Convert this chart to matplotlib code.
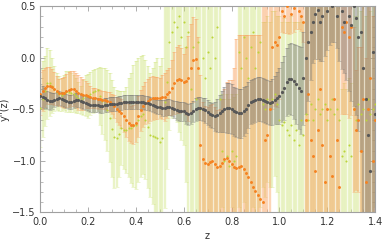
import numpy as np
import matplotlib
matplotlib.use("Agg")
import matplotlib.pyplot as plt
from matplotlib.ticker import MultipleLocator, FuncFormatter

# z grid (step 0.01 from 0 to 1.4)
z = np.round(np.arange(141) * 0.01, 2)

# series 1: yellow-green points with error bars
green_val = [
    -0.49, -0.40, -0.32, -0.25, -0.25, -0.27, -0.30, -0.33, -0.35, -0.36,
    -0.34, -0.33, -0.33, -0.34, -0.35, -0.37, -0.39, -0.41, -0.39, -0.37,
    -0.37, -0.35, -0.33, -0.32, -0.31, -0.37, -0.42, -0.45, -0.51, -0.58,
    -0.69, -0.77, -0.78, -0.74, -0.68, -0.70, -0.70, -0.68, -0.68, -0.66,
    -0.65, -0.60, -0.57, -0.55, -0.60, -0.67, -0.75, -0.76, -0.77, -0.78,
    -0.82, -0.78, -0.43, -0.24, 0.15, 0.25, 0.35, 0.30, 0.40, 0.20,
    0.35, 0.10, 0.25, -0.30, 0.10, -0.40, 0.15, -0.50, 0.00, -0.20,
    0.05, -0.10, 0.20, 0.00, 0.30, -0.40, -0.90, -1.00, -0.95, -1.05,
    -0.90, -1.00, -0.95, 0.05, -0.10, 0.20, 0.00, -0.20, 0.10, 0.25,
    -0.10, 0.05, 0.15, -0.45, -0.50, -0.40, -0.45, -0.40, -0.35, -0.45,
    -0.60, -0.65, -0.62, -0.70, -0.75, -0.65, -0.80, -0.70, -0.85, -0.60,
    -0.75, -0.55, -0.60, -0.45, -0.60, -0.50, -0.40, -0.55, -0.50, -0.45,
    -0.60, -0.50, -0.40, -0.55, -0.50, -0.60, -0.95, -0.90, -1.00, -0.85,
    -0.95, -0.50, -0.60, -0.45, -0.55, -0.50, -0.60, -0.40, -0.55, -0.50,
    -0.45,
]
green_err = [
    0.38, 0.37, 0.34, 0.34, 0.32, 0.27, 0.22, 0.18, 0.17, 0.16,
    0.17, 0.20, 0.20, 0.19, 0.18, 0.17, 0.15, 0.14, 0.17, 0.20,
    0.21, 0.21, 0.21, 0.21, 0.21, 0.28, 0.32, 0.35, 0.39, 0.43,
    0.47, 0.49, 0.47, 0.42, 0.36, 0.38, 0.42, 0.48, 0.53, 0.59,
    0.62, 0.60, 0.59, 0.58, 0.58, 0.59, 0.60, 0.66, 0.73, 0.78,
    0.74, 0.78, 1.03, 0.84, 0.85, 0.83, 0.90, 0.92, 1.12, 1.00,
    1.20, 1.30, 1.80, 1.40, 1.70, 1.30, 1.70, 1.20, 1.60, 1.40,
    1.60, 1.50, 1.80, 1.60, 1.80, 1.20, 0.55, 0.60, 0.60, 0.65,
    0.55, 0.62, 0.60, 1.50, 1.50, 1.60, 1.50, 1.40, 1.60, 1.70,
    1.50, 1.60, 1.60, 0.80, 0.85, 0.80, 0.80, 0.85, 0.80, 0.85,
    1.00, 1.00, 1.00, 1.05, 1.10, 1.05, 1.15, 1.05, 1.20, 1.00,
    1.10, 1.10, 1.20, 1.20, 1.25, 1.20, 1.20, 1.20, 1.20, 1.20,
    1.20, 1.20, 1.20, 1.20, 1.20, 1.20, 0.65, 0.65, 0.70, 0.65,
    0.70, 1.10, 1.00, 1.10, 1.00, 1.10, 1.00, 1.10, 1.00, 1.10,
    1.00,
]

# series 2: orange points with error bars
orange_val = [
    -0.35, -0.32, -0.29, -0.27, -0.27, -0.28, -0.30, -0.32, -0.34, -0.34,
    -0.34, -0.32, -0.31, -0.30, -0.30, -0.32, -0.34, -0.35, -0.36, -0.36,
    -0.37, -0.38, -0.39, -0.39, -0.40, -0.40, -0.41, -0.41, -0.42, -0.43,
    -0.45, -0.47, -0.50, -0.52, -0.54, -0.57, -0.60, -0.63, -0.65, -0.65,
    -0.63, -0.57, -0.51, -0.47, -0.44, -0.42, -0.40, -0.39, -0.39, -0.39,
    -0.39, -0.38, -0.38, -0.35, -0.33, -0.29, -0.25, -0.22, -0.21, -0.22,
    -0.24, -0.23, -0.20, -0.10, -0.02, -0.01, -0.10, -0.85, -0.98, -1.02,
    -1.03, -1.01, -1.00, -1.03, -1.06, -1.05, -1.02, -0.98, -0.97, -1.00,
    -1.03, -1.06, -1.07, -1.06, -1.05, -1.08, -1.12, -1.16, -1.20, -1.25,
    -1.29, -1.33, -1.37, -1.40, -0.80, -0.75, -0.50, 0.10, 0.15, 0.12,
    0.20, 0.45, 0.40, 0.50, 0.55, 0.42, 0.48, 0.52, 0.45, 0.40,
    0.35, -0.60, -0.35, -0.80, -0.95, -1.10, -0.70, -0.30, -0.85, -1.20,
    -0.50, -0.95, -1.15, -0.40, -0.80, -1.25, 0.30, 0.25, 0.35, 0.20,
    0.30, -0.50, -0.70, -0.60, -0.90, -0.40, -1.20, -0.50, -0.20, -1.00,
    -0.60,
]
orange_err = [
    0.21, 0.20, 0.19, 0.18, 0.18, 0.17, 0.16, 0.14, 0.13, 0.14,
    0.15, 0.16, 0.17, 0.17, 0.17, 0.17, 0.17, 0.16, 0.15, 0.13,
    0.12, 0.11, 0.10, 0.10, 0.10, 0.09, 0.09, 0.09, 0.09, 0.10,
    0.10, 0.11, 0.12, 0.13, 0.14, 0.15, 0.17, 0.18, 0.18, 0.19,
    0.19, 0.20, 0.20, 0.20, 0.20, 0.21, 0.21, 0.21, 0.20, 0.20,
    0.19, 0.21, 0.23, 0.23, 0.23, 0.27, 0.30, 0.32, 0.33, 0.31,
    0.28, 0.33, 0.41, 0.43, 0.41, 0.38, 0.30, 0.68, 0.55, 0.55,
    0.55, 0.55, 0.55, 0.55, 0.55, 0.55, 0.62, 0.68, 0.73, 0.78,
    0.81, 0.96, 1.25, 1.28, 1.27, 1.30, 1.34, 1.38, 1.42, 1.47,
    1.51, 1.55, 1.59, 2.00, 1.40, 1.35, 1.10, 0.60, 0.62, 0.60,
    0.60, 0.20, 0.16, 0.26, 0.32, 0.18, 0.23, 0.24, 0.17, 0.14,
    0.20, 1.40, 1.60, 1.50, 1.60, 1.70, 1.40, 1.40, 1.50, 1.80,
    1.40, 1.60, 1.70, 1.50, 1.50, 1.90, 0.85, 0.80, 0.90, 0.78,
    0.86, 0.80, 0.58, 0.70, 1.00, 1.30, 1.20, 1.50, 1.60, 1.40,
    1.50,
]

# series 3: gray points with error bars
gray_val = [
    -0.37, -0.38, -0.39, -0.41, -0.42, -0.42, -0.41, -0.40, -0.39, -0.40,
    -0.41, -0.42, -0.43, -0.43, -0.42, -0.41, -0.41, -0.42, -0.43, -0.44,
    -0.45, -0.46, -0.46, -0.46, -0.46, -0.47, -0.47, -0.46, -0.46, -0.45,
    -0.45, -0.45, -0.45, -0.44, -0.44, -0.43, -0.43, -0.43, -0.43, -0.43,
    -0.43, -0.43, -0.43, -0.43, -0.44, -0.44, -0.45, -0.46, -0.47, -0.48,
    -0.48, -0.49, -0.49, -0.48, -0.48, -0.49, -0.50, -0.51, -0.52, -0.52,
    -0.52, -0.54, -0.55, -0.54, -0.52, -0.50, -0.49, -0.49, -0.50, -0.51,
    -0.53, -0.55, -0.56, -0.57, -0.56, -0.54, -0.52, -0.50, -0.49, -0.49,
    -0.50, -0.52, -0.53, -0.54, -0.54, -0.52, -0.50, -0.46, -0.43, -0.42,
    -0.41, -0.40, -0.40, -0.41, -0.42, -0.43, -0.44, -0.43, -0.41, -0.39,
    -0.37, -0.33, -0.29, -0.24, -0.21, -0.21, -0.23, -0.26, -0.29, -0.32,
    -0.20, 0.00, 0.15, 0.25, 0.35, 0.42, 0.46, 0.35, 0.40, 0.55,
    0.45, 0.60, 0.50, 0.65, 0.40, 0.55, 0.45, 0.35, 0.60, 0.40,
    0.32, 0.50, 0.38, 0.20, 0.25, -0.10, -0.40, -0.75, -1.10, 0.05,
    -0.55,
]
gray_err = [
    0.11, 0.11, 0.10, 0.09, 0.09, 0.08, 0.07, 0.07, 0.07, 0.07,
    0.07, 0.07, 0.07, 0.07, 0.07, 0.07, 0.07, 0.07, 0.07, 0.07,
    0.07, 0.07, 0.07, 0.07, 0.07, 0.07, 0.07, 0.07, 0.07, 0.07,
    0.07, 0.07, 0.07, 0.07, 0.07, 0.07, 0.07, 0.07, 0.07, 0.07,
    0.07, 0.07, 0.07, 0.07, 0.07, 0.07, 0.07, 0.07, 0.07, 0.07,
    0.07, 0.08, 0.08, 0.08, 0.08, 0.08, 0.08, 0.09, 0.09, 0.09,
    0.09, 0.10, 0.10, 0.10, 0.10, 0.11, 0.11, 0.11, 0.11, 0.12,
    0.12, 0.12, 0.12, 0.14, 0.16, 0.18, 0.20, 0.22, 0.24, 0.24,
    0.24, 0.24, 0.24, 0.24, 0.24, 0.24, 0.23, 0.22, 0.21, 0.21,
    0.21, 0.21, 0.21, 0.21, 0.21, 0.21, 0.21, 0.22, 0.23, 0.25,
    0.27, 0.29, 0.31, 0.33, 0.34, 0.35, 0.36, 0.38, 0.40, 0.42,
    0.45, 0.55, 0.57, 0.47, 0.40, 0.43, 0.47, 0.38, 0.43, 0.53,
    0.38, 0.48, 0.35, 0.50, 0.31, 0.58, 0.56, 0.50, 0.82, 0.72,
    0.74, 0.97, 0.94, 0.91, 1.15, 1.50, 1.40, 1.50, 1.70, 1.60,
    1.60,
]

series = [
    (green_val, green_err, (0.80, 0.89, 0.45, 0.40), (0.72, 0.82, 0.25, 0.8), "#bcd43a", 1.5),
    (orange_val, orange_err, (0.98, 0.64, 0.38, 0.45), (0.93, 0.50, 0.15, 0.8), "#f58220", 2.1),
    (gray_val, gray_err, (0.45, 0.45, 0.45, 0.40), (0.35, 0.35, 0.35, 0.9), "#575757", 2.3),
]

fig, ax = plt.subplots(figsize=(3.82, 2.42), dpi=100)
fig.subplots_adjust(left=0.105, right=0.982, top=0.975, bottom=0.122)

for val, err, bar_col, cap_col, dot_col, ms in series:
    bars = ax.errorbar(z, val, yerr=err, fmt="none", ecolor=bar_col,
                       elinewidth=1.7, capsize=1.1, capthick=0.6)
    for cap in bars[1]:
        cap.set_color(cap_col)
    ax.plot(z, val, "o", color=dot_col, ms=ms, mew=0, zorder=3)

ax.set_xlim(0, 1.4)
ax.set_ylim(-1.5, 0.5)

frame_col = "#a0a0a0"
for sp in ax.spines.values():
    sp.set_color(frame_col)
    sp.set_linewidth(0.8)

fmt = FuncFormatter(lambda v, pos: f"{v:.1f}".replace("-", "\u2212"))
ax.xaxis.set_major_locator(MultipleLocator(0.2))
ax.xaxis.set_minor_locator(MultipleLocator(0.05))
ax.yaxis.set_major_locator(MultipleLocator(0.5))
ax.yaxis.set_minor_locator(MultipleLocator(0.1))
ax.xaxis.set_major_formatter(fmt)
ax.yaxis.set_major_formatter(fmt)
ax.tick_params(which="both", direction="in", top=True, right=True,
               color=frame_col, labelcolor="#333333", labelsize=7)
ax.tick_params(axis="x", pad=3)
ax.tick_params(axis="y", pad=3)
ax.tick_params(which="major", length=3.5, width=0.6)
ax.tick_params(which="minor", length=2, width=0.5)

ax.set_xlabel("z", fontsize=7, color="#333333", labelpad=3)
ax.set_ylabel("y''(z)", fontsize=7, color="#333333", labelpad=2)

fig.savefig("out.png", dpi=100)
